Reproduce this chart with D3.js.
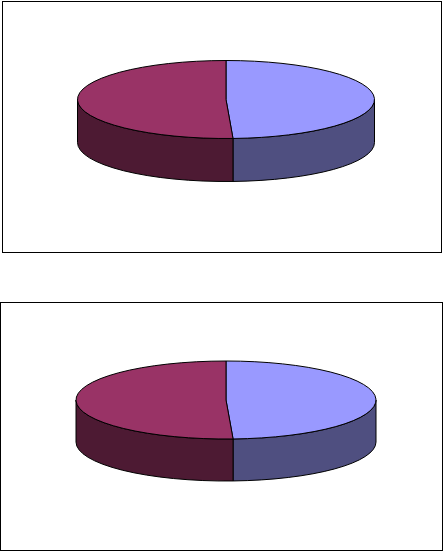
<!DOCTYPE html>
<html><head><meta charset="utf-8">
<script src="https://cdn.jsdelivr.net/npm/d3@7"></script>
<style>html,body{margin:0;padding:0;background:#fff}svg{display:block}</style>
</head><body><svg id="c" width="443" height="551"></svg>
<script>
const categories = ["A", "B"];
const valuesTop = [49.25, 50.75];
const valuesBottom = [49.25, 50.75];
const topColors = ["#9999FF", "#993366"];
const sideColors = ["#4F4F80", "#4D1A33"];
const frames = [[2.5, 1.5, 441.5, 252.5], [0.5, 302.5, 442.5, 550.5]];
const pies = [
  {values: valuesTop, cx: 226, cy: 99.5, rx: 148.5, ry: 39, depth: 43},
  {values: valuesBottom, cx: 226, cy: 400, rx: 150, ry: 39, depth: 42}
];
const svg = d3.select("#c");
const pieGen = d3.pie().sort(null);
frames.forEach(f => svg.append("rect").attr("x", f[0]).attr("y", f[1])
  .attr("width", f[2]-f[0]).attr("height", f[3]-f[1])
  .attr("fill", "#fff").attr("stroke", "#000").attr("stroke-width", 1));

pies.forEach(p => {
  const sx = d3.scaleLinear().domain([-1, 1]).range([p.cx - p.rx, p.cx + p.rx]);
  const sy = d3.scaleLinear().domain([-1, 1]).range([p.cy - p.ry, p.cy + p.ry]);
  const pt = a => [sx(Math.sin(a)), sy(-Math.cos(a))];
  const arcs = pieGen(p.values);
  const g = svg.append("g").attr("stroke", "#000").attr("stroke-width", 1).attr("stroke-linejoin", "round");
  // walls: only the front half of the rim is visible
  arcs.forEach((d, i) => {
    const a0 = Math.max(d.startAngle, Math.PI / 2), a1 = Math.min(d.endAngle, 3 * Math.PI / 2);
    if (a1 <= a0) return;
    const [x0, y0] = pt(a0), [x1, y1] = pt(a1);
    g.append("path").attr("fill", sideColors[i]).attr("d",
      `M${x0},${y0}A${p.rx},${p.ry} 0 0 1 ${x1},${y1}L${x1},${y1+p.depth}` +
      `A${p.rx},${p.ry} 0 0 0 ${x0},${y0+p.depth}Z`);
  });
  // top face
  arcs.forEach((d, i) => {
    const [x0, y0] = pt(d.startAngle), [x1, y1] = pt(d.endAngle);
    const large = d.endAngle - d.startAngle > Math.PI ? 1 : 0;
    g.append("path").attr("fill", topColors[i]).attr("d",
      `M${sx(0)},${sy(0)}L${x0},${y0}A${p.rx},${p.ry} 0 ${large} 1 ${x1},${y1}Z`);
  });
});
</script></body></html>
